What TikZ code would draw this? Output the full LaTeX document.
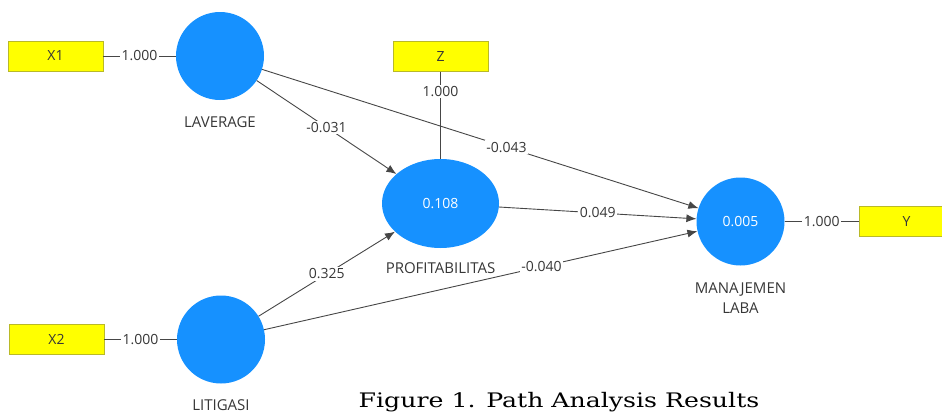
\documentclass[tikz,border=0pt]{standalone}
\usepackage{fontspec}
\setmainfont{Open Sans}
\newfontfamily\capfont{DejaVu Serif}
\usetikzlibrary{positioning,arrows.meta,shapes.geometric}

\definecolor{plsblue}{RGB}{22,145,255}
\definecolor{plsyellow}{RGB}{255,255,0}
\definecolor{plsedge}{RGB}{185,185,40}
\definecolor{plstext}{RGB}{55,55,55}
\definecolor{plsline}{RGB}{70,70,70}

\tikzset{
  indicator/.style={draw=plsedge, fill=plsyellow, minimum width=95pt, minimum height=30pt,
    inner sep=0pt, text=plstext, font=\fontsize{14}{16}\selectfont},
  latent/.style={circle, fill=plsblue, minimum size=88pt, inner sep=0pt, text=white,
    font=\fontsize{14}{16}\selectfont},
  varname/.style={text=plstext, inner sep=0pt, align=center, font=\fontsize{15}{20}\selectfont},
  coef/.style={fill=white, inner sep=1.5pt, text=plstext, font=\fontsize{14}{16}\selectfont},
  link/.style={draw=plsline, line width=0.9pt},
  effect/.style={link, -{Latex[length=10pt,width=8pt]}}
}

\begin{document}
\begin{tikzpicture}[x=1pt, y=-1pt]
        \useasboundingbox (0,0) rectangle (942,415);
        \clip (0,0) rectangle (942,415);
        % indicators
        \node[indicator] (x1) at (55.5,56) {X1};
        \node[indicator] (x2) at (56.5,339.5) {X2};
        \node[indicator] (z) at (440.5,56.5) {Z};
        \node[indicator] (y) at (906.5,221.5) {Y};
        % latent variables
        \node[latent] (lav) at (220,56) {};
        \node[latent] (lit) at (221,339.5) {};
        \node[latent, ellipse, minimum width=117pt, minimum height=89pt] (prof) at (440.5,203.5) {0.108};
        \node[latent] (ml) at (740.5,221.5) {0.005};
        \node[varname, below=22pt of lav.south, anchor=center] (lavname) {LAVERAGE};
        \node[varname, below=21pt of lit.south, anchor=center] (litname) {LITIGASI};
        \node[varname, below=20pt of prof.south, anchor=center] (profname) {PROFITABILITAS};
        \node[varname, below=32pt of ml.south, anchor=center] (mlname) {MANAJEMEN\\LABA};
        % loadings
        \draw[link] (x1) -- node[coef] {1.000} (lav);
        \draw[link] (x2) -- node[coef] {1.000} (lit);
        \draw[link] (z) -- node[coef, pos=0.23] {1.000} (prof);
        \draw[link] (ml) -- node[coef] {1.000} (y);
        % paths
        \draw[effect] (lav) -- node[coef] {-0.031} (prof);
        \draw[effect] (lav) -- node[coef, pos=0.56] {-0.043} (ml);
        \draw[effect] (prof) -- node[coef] {0.049} (ml);
        \draw[effect] (lit) -- node[coef] {0.325} (prof);
        \draw[effect] (lit) -- node[coef, pos=0.64] {-0.040} (ml);
        % caption
        \node[text=black, font=\capfont\fontsize{20}{22}\selectfont] (caption) at (559,402)
          {\scalebox{1.26}[1]{Figure 1. Path Analysis Results}};
    \end{tikzpicture}
\end{document}
